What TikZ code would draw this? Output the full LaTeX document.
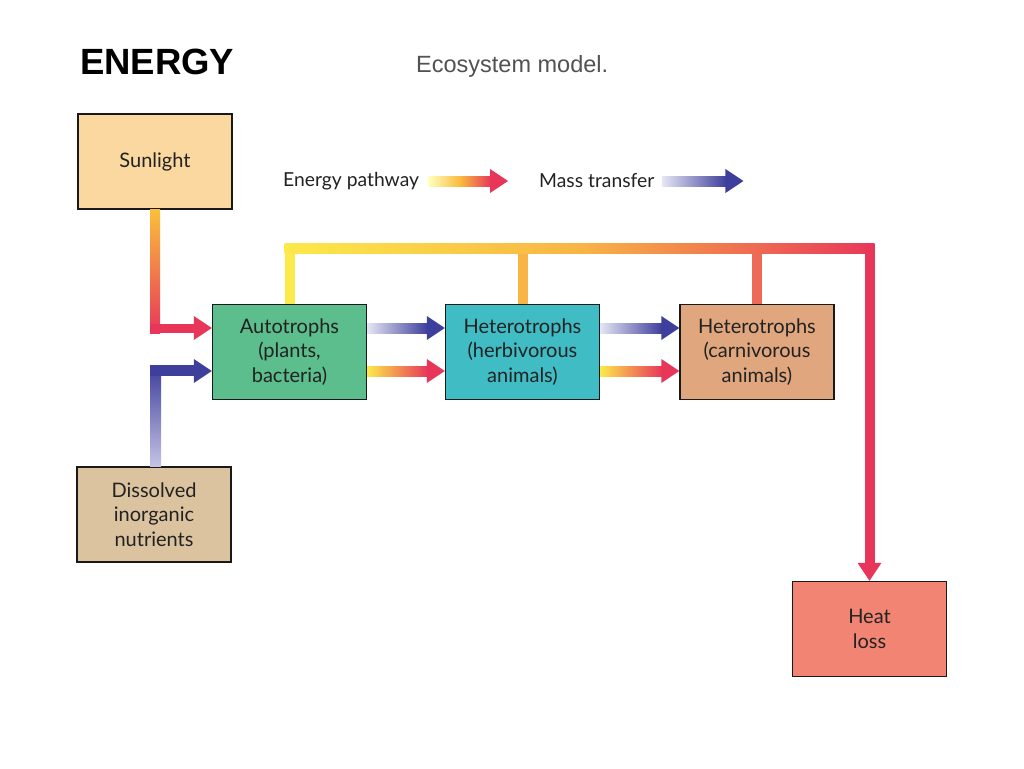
\documentclass[tikz,border=0pt]{standalone}
\usepackage{fontspec}
\setmainfont{Lato}
\newfontfamily\arialfont{Liberation Sans}
\usetikzlibrary{calc}
\definecolor{sunfill}{HTML}{FBD8A0}
\definecolor{autofill}{HTML}{5BBE8C}
\definecolor{herbfill}{HTML}{3FBCC4}
\definecolor{carnfill}{HTML}{E0A67E}
\definecolor{dissfill}{HTML}{DCC3A0}
\definecolor{heatfill}{HTML}{F28474}
\definecolor{ered}{HTML}{E8365A}
\definecolor{eorange}{HTML}{F8B545}
\definecolor{ecoral}{HTML}{EE6A58}
\definecolor{eyellow}{HTML}{FCE94A}
\definecolor{mblue}{HTML}{3E3E9C}
\definecolor{mlight}{HTML}{C4C4E6}
\definecolor{txt}{HTML}{222222}
\newcommand\hgrad[4]{% start, tip, left colour, right colour
  \shade[left color=#3,right color=#4] ($(#1)+(0,-5)$) rectangle ($(#2)+(-17,5)$);
  \fill[#4] ($(#2)+(-18,-12)$) -- (#2) -- ($(#2)+(-18,12)$) -- cycle;}
\begin{document}
\begin{tikzpicture}[x=1pt,y=-1pt,
  box/.style={draw=black!90, line width=1.4pt, minimum width=154pt, minimum height=95pt,
    align=center, font=\fontsize{20}{24.5}\selectfont, text=txt, inner sep=0pt},
  lbl/.style={anchor=west, inner sep=0pt, font=\fontsize{19.3}{22}\selectfont, text=txt}]
\useasboundingbox[fill=white] (0,0) rectangle (1024,768);

% titles
\node[anchor=west, inner sep=0pt, font=\arialfont\bfseries\fontsize{36.5}{40}\selectfont] (title) at (80,62) {ENERGY};
\node[anchor=west, inner sep=0pt, font=\arialfont\fontsize{23.5}{28}\selectfont, text=black!68] (sub) at (416,66) {Ecosystem model.};

% boxes
\node[box, fill=sunfill] (sun) at (155,161.5) {Sunlight};
\node[box, fill=autofill] (auto) at (289.5,352) {Autotrophs\\(plants,\\bacteria)};
\node[box, fill=herbfill] (herb) at (522.5,352) {Heterotrophs\\(herbivorous\\animals)};
\node[box, fill=carnfill] (carn) at (757,352) {Heterotrophs\\(carnivorous\\animals)};
\node[box, fill=dissfill] (diss) at (154,514.5) {Dissolved\\inorganic\\nutrients};
\node[box, fill=heatfill] (heat) at (869.5,629) {Heat\\loss};

% legend
\node[lbl] (leg1) at (283,181) {Energy pathway};
\node[lbl] (leg2) at (539,181) {Mass transfer};
\coordinate (l1a) at ($(leg1.east)+(9,0)$);
\coordinate (l1b) at ($(leg2.west)+(-31,0)$);
\shade[left color=yellow!25, right color=ered, middle color=eorange!90!yellow] ($(l1a)+(0,-5)$) rectangle ($(l1b)+(-17,5)$);
\fill[ered] ($(l1b)+(-18,-12)$) -- (l1b) -- ($(l1b)+(-18,12)$) -- cycle;
\coordinate (l2a) at ($(leg2.east)+(8,0)$);
\coordinate (l2b) at ($(l2a)+(81,0)$);
\hgrad{l2a}{l2b}{mlight!45}{mblue}

% sunlight -> autotrophs
\coordinate (s1) at ($(sun.south)+(0,119)$);
\coordinate (s2) at ($(auto.west)+(0,-24)$);
\shade[top color=eorange!85!yellow, bottom color=ered] ($(sun.south)+(-5,0)$) rectangle ($(s1)+(5,5)$);
\fill[ered] ($(s1)+(-5,-5)$) rectangle ($(s2)+(-17,5)$);
\fill[ered] ($(s2)+(-18,-12)$) -- (s2) -- ($(s2)+(-18,12)$) -- cycle;

% dissolved -> autotrophs
\coordinate (d1) at ($(diss.north)+(1,-96)$);
\coordinate (d2) at ($(auto.west)+(0,19)$);
\shade[top color=mblue, bottom color=mlight] ($(diss.north)+(-4,0)$) rectangle ($(d1)+(6,-5)$);
\fill[mblue] ($(d1)+(-5,-5)$) rectangle ($(d2)+(-17,5)$);
\fill[mblue] ($(d2)+(-18,-12)$) -- (d2) -- ($(d2)+(-18,12)$) -- cycle;

% autotrophs -> herbivores
\coordinate (a1m) at ($(auto.east)+(0,-24)$);
\coordinate (a2m) at ($(herb.west)+(0,-24)$);
\coordinate (a1e) at ($(auto.east)+(0,19)$);
\coordinate (a2e) at ($(herb.west)+(0,19)$);
\hgrad{a1m}{a2m}{mlight!45}{mblue}
\hgrad{a1e}{a2e}{eyellow}{ered}

% herbivores -> carnivores
\coordinate (h1m) at ($(herb.east)+(0,-24)$);
\coordinate (h2m) at ($(carn.west)+(0,-24)$);
\coordinate (h1e) at ($(herb.east)+(0,19)$);
\coordinate (h2e) at ($(carn.west)+(0,19)$);
\hgrad{h1m}{h2m}{mlight!45}{mblue}
\hgrad{h1e}{h2e}{eyellow}{ered}

% heat loss loop
\coordinate (ta) at ($(auto.north)+(0,-55)$);
\coordinate (tz) at ($(heat.north)+(0,-332)$);
\fill[eyellow] ($(auto.north)+(-5,0)$) rectangle ($(ta)+(5,-5)$);
\fill[eorange] ($(herb.north)+(-5,0)$) rectangle ($(herb.north |- ta)+(5,0)$);
\fill[ecoral] ($(carn.north)+(-5,0)$) rectangle ($(carn.north |- ta)+(5,0)$);
\shade[left color=eyellow, right color=ered, middle color=eorange] ($(ta)+(-5,-5)$) rectangle ($(tz)+(5,5)$);
\fill[ered] ($(tz)+(-5,-5)$) rectangle ($(heat.north)+(5,-17)$);
\fill[ered] ($(heat.north)+(-12,-18)$) -- (heat.north) -- ($(heat.north)+(12,-18)$) -- cycle;
\end{tikzpicture}
\end{document}
